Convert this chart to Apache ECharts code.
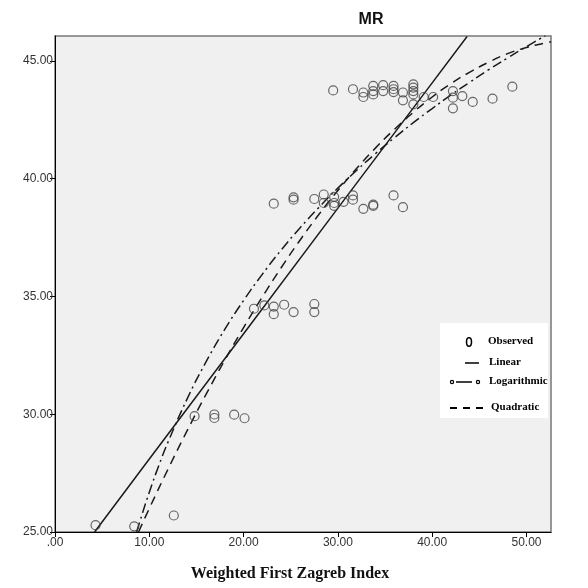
<!DOCTYPE html>
<html>
<head>
<meta charset="utf-8">
<title>MR</title>
<script src="https://cdn.jsdelivr.net/npm/echarts@6/dist/echarts.min.js"></script>
<style>
html, body { margin: 0; padding: 0; background: #fff; }
#main { width: 588px; height: 588px; }
</style>
</head>
<body>
<div id="main"></div>
<script type="text/javascript">
// observed points
var obsX = [4.3, 8.4, 12.6,
  14.8, 16.9, 16.9, 19.0, 20.1,
  21.1, 22.2, 23.2, 23.2, 24.3, 25.3, 27.5, 27.5,
  23.2, 25.3, 25.3, 27.5, 28.5, 28.5, 29.6, 29.6, 29.6, 30.6, 31.6, 31.6, 32.7, 33.75, 33.75, 35.9, 36.9,
  29.5, 31.6, 32.7, 32.7, 33.75, 33.75, 33.75, 34.8, 34.8, 35.9, 35.9, 35.9, 36.9, 36.9,
  38.0, 38.0, 38.0, 38.0, 38.0, 39.1, 40.1, 42.2, 42.2, 42.2, 43.2, 44.3, 46.4, 48.5];
var obsY = [25.29, 25.24, 25.70,
  29.92, 29.99, 29.84, 29.98, 29.83,
  34.48, 34.62, 34.57, 34.25, 34.65, 34.34, 34.68, 34.34,
  38.94, 39.21, 39.11, 39.14, 39.33, 38.97, 39.23, 38.97, 38.85, 39.02, 39.29, 39.11, 38.72, 38.90, 38.85, 39.29, 38.79,
  43.75, 43.80, 43.66, 43.47, 43.94, 43.72, 43.58, 43.97, 43.72, 43.94, 43.80, 43.68, 43.66, 43.33,
  44.01, 43.87, 43.72, 43.58, 43.16, 43.47, 43.47, 43.72, 43.44, 42.99, 43.51, 43.26, 43.40, 43.91];

// fitted curves, values
var linX = [4.2, 10, 20, 30, 40, 43.7];
var linY = [25.0, 28.1, 33.42, 38.75, 44.07, 46.04];

var logX = [8.66, 9, 10, 11, 12, 14, 16, 18, 20, 22, 24, 26, 28, 30, 32, 34, 36, 38, 40, 42, 44, 46, 48, 50, 52];
var logY = [25.0, 25.45, 26.69, 27.81, 28.83, 30.64, 32.21, 33.60, 34.83, 35.95, 36.98, 37.92, 38.79, 39.60,
  40.36, 41.07, 41.74, 42.38, 42.98, 43.56, 44.10, 44.63, 45.13, 45.61, 46.07];

var quadX = [8.86, 10, 12, 14, 16, 18, 20, 22, 24, 26, 28, 30, 32, 34, 36, 38, 40, 42, 44, 46, 48, 50, 52, 52.6];
var quadY = [25.0, 26.00, 27.68, 29.29, 30.83, 32.29, 33.68, 34.99, 36.23, 37.40, 38.49, 39.50, 40.44,
  41.31, 42.10, 42.82, 43.47, 44.04, 44.53, 44.95, 45.31, 45.57, 45.77, 45.82];

var xTicks = [0, 10, 20, 30, 40, 50];
var yTicks = [25, 30, 35, 40, 45];

function pairs(xs, ys) {
  var out = [];
  for (var i = 0; i < xs.length; ++i) {
    out.push([xs[i], ys[i]]);
  }
  return out;
}

function fmt(v) {
  var s = v.toFixed(2);
  return s.indexOf('0.') === 0 ? s.substring(1) : s;
}

var myChart = echarts.init(document.getElementById('main'));

var lineColor = '#1a1a1a';
var legendFont = 'bold 11px "Liberation Serif"';

var option = {
  animation: false,
  backgroundColor: '#fff',
  grid: {
    left: 55, right: 37, top: 36, bottom: 56,
    show: true,
    backgroundColor: '#f0f0f0',
    borderColor: '#777',
    borderWidth: 1.5
  },
  xAxis: {
    type: 'value',
    min: 0, max: 52.6, interval: 10,
    axisLine: { onZero: false, lineStyle: { color: '#000', width: 1 } },
    axisTick: { length: 5, customValues: xTicks, lineStyle: { color: '#000' } },
    axisLabel: {
      customValues: xTicks,
      formatter: fmt,
      color: '#333', fontFamily: 'Liberation Sans', fontSize: 12, margin: 5
    },
    splitLine: { show: false }
  },
  yAxis: {
    type: 'value',
    min: 25, max: 46.06, interval: 5,
    axisLine: { onZero: false, lineStyle: { color: '#000', width: 1 } },
    axisTick: { length: 5, customValues: yTicks, lineStyle: { color: '#000' } },
    axisLabel: {
      customValues: yTicks,
      formatter: fmt,
      color: '#333', fontFamily: 'Liberation Sans', fontSize: 12, margin: 2
    },
    splitLine: { show: false }
  },
  series: [
    {
      name: 'Observed',
      type: 'scatter',
      data: pairs(obsX, obsY),
      symbol: 'circle',
      symbolSize: 9,
      itemStyle: { color: 'rgba(0,0,0,0)', borderColor: '#444', borderWidth: 1.2 },
      z: 3
    },
    {
      name: 'Linear',
      type: 'line',
      data: pairs(linX, linY),
      showSymbol: false,
      clip: true,
      lineStyle: { color: lineColor, width: 1.5 }
    },
    {
      name: 'Logarithmic',
      type: 'line',
      data: pairs(logX, logY),
      smooth: true,
      showSymbol: false,
      clip: true,
      lineStyle: { color: lineColor, width: 1.5, type: [10, 4, 2, 4] }
    },
    {
      name: 'Quadratic',
      type: 'line',
      data: pairs(quadX, quadY),
      smooth: true,
      showSymbol: false,
      clip: true,
      lineStyle: { color: lineColor, width: 1.5, type: [9, 6] }
    }
  ],
  graphic: [
    { type: 'text', x: 371, y: 20,
      style: { text: 'MR', align: 'center', verticalAlign: 'middle', textAlign: 'center', textVerticalAlign: 'middle',
        font: 'bold 16px "Liberation Sans"', fill: '#111' } },
    { type: 'text', x: 290, y: 574,
      style: { text: 'Weighted First Zagreb Index', align: 'center', verticalAlign: 'middle', textAlign: 'center', textVerticalAlign: 'middle',
        font: 'bold 16px "Liberation Serif"', fill: '#111' } },
    // legend box
    { type: 'rect', shape: { x: 440, y: 323, width: 108, height: 95 }, style: { fill: '#fff' }, z: 10 },
    { type: 'ellipse', shape: { cx: 469, cy: 342, rx: 2.5, ry: 4.2 }, style: { fill: 'none', stroke: '#000', lineWidth: 1.5 }, z: 11 },
    { type: 'text', x: 488, y: 341, z: 11,
      style: { text: 'Observed', verticalAlign: 'middle', textVerticalAlign: 'middle', font: legendFont, fill: '#000' } },
    { type: 'line', shape: { x1: 465, y1: 363, x2: 479, y2: 363 }, style: { stroke: '#000', lineWidth: 1.5 }, z: 11 },
    { type: 'text', x: 489, y: 362, z: 11,
      style: { text: 'Linear', verticalAlign: 'middle', textVerticalAlign: 'middle', font: legendFont, fill: '#000' } },
    { type: 'circle', shape: { cx: 452, cy: 382, r: 1.6 }, style: { fill: 'none', stroke: '#000', lineWidth: 1.2 }, z: 11 },
    { type: 'line', shape: { x1: 456, y1: 382, x2: 472, y2: 382 }, style: { stroke: '#000', lineWidth: 1.5 }, z: 11 },
    { type: 'circle', shape: { cx: 478, cy: 382, r: 1.6 }, style: { fill: 'none', stroke: '#000', lineWidth: 1.2 }, z: 11 },
    { type: 'text', x: 489, y: 381, z: 11,
      style: { text: 'Logarithmic', verticalAlign: 'middle', textVerticalAlign: 'middle', font: legendFont, fill: '#000' } },
    { type: 'line', shape: { x1: 450, y1: 408, x2: 488, y2: 408 }, style: { stroke: '#000', lineWidth: 1.8, lineDash: [7, 6] }, z: 11 },
    { type: 'text', x: 491, y: 407, z: 11,
      style: { text: 'Quadratic', verticalAlign: 'middle', textVerticalAlign: 'middle', font: legendFont, fill: '#000' } }
  ]
};

myChart.setOption(option);
</script>
</body>
</html>
